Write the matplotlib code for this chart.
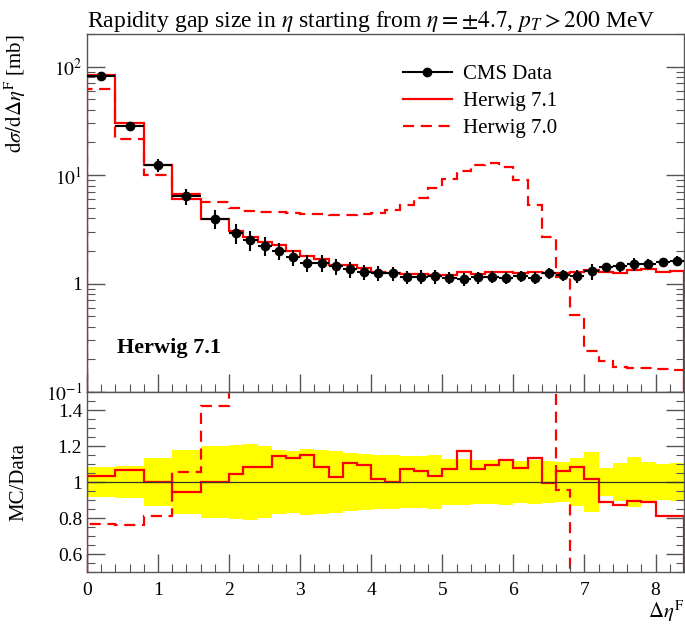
import numpy as np
import matplotlib
matplotlib.use('Agg')
import matplotlib.pyplot as plt
from matplotlib.ticker import MultipleLocator, LogLocator, FuncFormatter, NullFormatter
from matplotlib.lines import Line2D

plt.rcParams['font.family'] = ['Liberation Serif', 'DejaVu Serif']
plt.rcParams['mathtext.fontset'] = 'stix'

# bin edges in Delta eta^F (0.4 wide up to 2, then 0.2 wide)
bin_edges = np.array([0.0, 0.4, 0.8, 1.2, 1.6] + list(np.round(np.arange(2.0, 8.41, 0.2), 1)))

# CMS data [mb]
data = np.array([81.5, 28.2, 12.3, 6.38, 3.95,
                 2.91, 2.50, 2.24, 1.99, 1.75, 1.55, 1.55, 1.45, 1.35, 1.28,
                 1.25, 1.24, 1.15, 1.16, 1.17, 1.13, 1.10, 1.14, 1.16, 1.13,
                 1.17, 1.13, 1.25, 1.19, 1.17, 1.30, 1.43, 1.44, 1.50, 1.53,
                 1.58, 1.61])
# relative data uncertainty (yellow band half width)
data_relerr = np.array([0.082, 0.090, 0.133, 0.178, 0.200,
                        0.206, 0.210, 0.200, 0.178, 0.170, 0.181, 0.178, 0.172, 0.163, 0.155,
                        0.149, 0.149, 0.143, 0.143, 0.149, 0.130, 0.128, 0.122, 0.122, 0.130,
                        0.118, 0.120, 0.115, 0.113, 0.135, 0.168, 0.080, 0.105, 0.137, 0.110,
                        0.100, 0.107])
# Herwig 7.1
herwig71 = np.array([84.4, 30.1, 12.3, 6.02, 3.95,
                     3.04, 2.71, 2.43, 2.28, 1.98, 1.78, 1.68, 1.49, 1.49, 1.40,
                     1.27, 1.24, 1.23, 1.23, 1.21, 1.21, 1.29, 1.22, 1.27, 1.27,
                     1.26, 1.28, 1.24, 1.26, 1.27, 1.32, 1.27, 1.26, 1.34, 1.36,
                     1.28, 1.31])
# Herwig 7.0
herwig70 = np.array([62.3, 21.5, 9.96, 6.75, 5.61,
                     4.98, 4.71, 4.61, 4.54, 4.48, 4.41, 4.35, 4.32, 4.32, 4.38,
                     4.48, 4.81, 5.35, 6.17, 7.62, 9.23, 11.0, 12.5, 12.9, 11.9,
                     8.96, 5.35, 2.69, 1.14, 0.518, 0.238, 0.192, 0.170, 0.168, 0.166,
                     0.164, 0.161])

centers = 0.5 * (bin_edges[1:] + bin_edges[:-1])
halfw = 0.5 * np.diff(bin_edges)

fig = plt.figure(figsize=(6.85, 6.27), dpi=100)
ax = fig.add_axes([0.127, 0.3748, 0.8715, 0.571])
rax = fig.add_axes([0.127, 0.0877, 0.8715, 0.2871], sharex=ax)

red = '#ff0000'
dash = (0, (5, 3))

# main panel
ax.stairs(herwig70, bin_edges, color=red, lw=1.6, linestyle=dash)
ax.stairs(herwig71, bin_edges, color=red, lw=1.6)
ax.errorbar(centers, data, yerr=data * data_relerr, xerr=halfw, fmt='o', color='black',
            ms=6, elinewidth=1.5, capsize=0, zorder=5)

ax.set_yscale('log')
ax.set_ylim(0.1, 200)
ax.set_xlim(0, 8.4)

def log_fmt(v, pos):
    n = int(round(np.log10(v)))
    return '1' if n == 0 else r'$10^{%d}$' % n

ax.yaxis.set_major_locator(LogLocator(base=10))
ax.yaxis.set_major_formatter(FuncFormatter(log_fmt))
ax.yaxis.set_minor_locator(LogLocator(base=10, subs=np.arange(2, 10)))
ax.yaxis.set_minor_formatter(NullFormatter())
ax.tick_params(axis='x', labelbottom=False)

ax.set_title(r'Rapidity gap size in $\eta$ starting from $\eta = \pm4.7$, $p_T > 200$ MeV',
             loc='left', fontsize=17, pad=5)
ax.set_ylabel(r'$\mathrm{d}\sigma/\mathrm{d}\Delta\eta^\mathrm{F}$ [mb]', fontsize=15, loc='top')
ax.yaxis.set_label_coords(-0.098, 1.0)

ax.text(0.05, 0.108, 'Herwig 7.1', transform=ax.transAxes, fontsize=16, fontweight='bold',
        ha='left', va='baseline')

handles = [Line2D([], [], color='black', marker='o', ms=6, lw=1.5),
           Line2D([], [], color=red, lw=1.6),
           Line2D([], [], color=red, lw=1.6, linestyle=dash)]
ax.legend(handles, ['CMS Data', 'Herwig 7.1', 'Herwig 7.0'], loc='upper left',
          bbox_to_anchor=(0.529, 0.915), frameon=False, fontsize=15, handlelength=2.35,
          handletextpad=0.55, labelspacing=0.36, borderpad=0, borderaxespad=0)

# ratio panel
rax.stairs(1 + data_relerr, bin_edges, baseline=1 - data_relerr, fill=True, color='#ffff00', lw=0)
rax.axhline(1.0, color='#333333', lw=0.9)
rax.stairs(herwig71 / data, bin_edges, color=red, lw=1.6)
rax.stairs(herwig70 / data, bin_edges, color=red, lw=1.6, linestyle=dash)
rax.set_ylim(0.5, 1.5)
rax.yaxis.set_major_locator(MultipleLocator(0.2))
rax.yaxis.set_minor_locator(MultipleLocator(0.05))
rax.yaxis.set_major_formatter(FuncFormatter(lambda v, p: '%g' % round(v, 2) if 0.55 < v < 1.45 else ''))
rax.xaxis.set_major_locator(MultipleLocator(1))
rax.xaxis.set_minor_locator(MultipleLocator(0.2))
rax.set_ylabel('MC/Data', fontsize=15)
rax.yaxis.set_label_coords(-0.098, 0.5)
rax.set_xlabel(r'$\Delta\eta^\mathrm{F}$', fontsize=15, loc='right')
rax.xaxis.set_label_coords(1.0, -0.15)

for a in (ax, rax):
    a.tick_params(which='both', direction='in', left=True, right=True, top=False, bottom=True,
                  labelsize=14, color='#555555')
    a.tick_params(which='major', length=13, width=1)
    a.tick_params(which='minor', length=6, width=0.8)
    for s in a.spines.values():
        s.set_color('#555555')
        s.set_linewidth(1)
rax.tick_params(axis='x', pad=7)

fig.savefig('out.png', dpi=100)
